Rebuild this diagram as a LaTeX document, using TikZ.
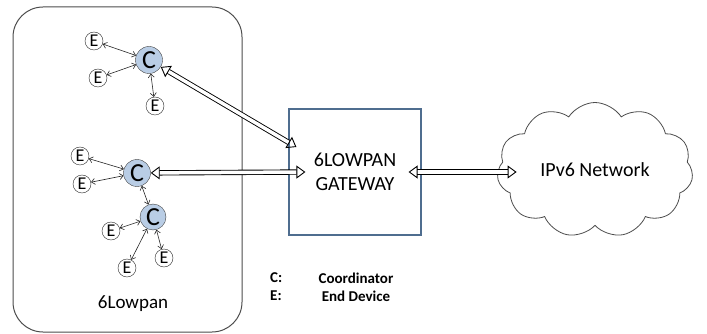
\documentclass[tikz,border=0pt]{standalone}
\usepackage{fontspec}
\setmainfont{Carlito}
\usetikzlibrary{arrows.meta,shapes.symbols}
\definecolor{coordfill}{RGB}{185,205,229}
\definecolor{gwblue}{RGB}{79,109,143}
\tikzset{
% Two node styles for the sensor nodes: coordinator and end device
coord node/.style={circle,draw=black!75,fill=coordfill,inner sep=0,minimum size=27,font=\fontsize{26}{26}\selectfont},
end node/.style={circle,draw=black!85,fill=white,inner sep=0,minimum size=18,font=\fontsize{18}{18}\selectfont},
% thin radio links and the thick backbone links
link/.style={draw=black!85,line width=0.6,{Straight Barb[length=3.5pt,width=6pt]}-{Straight Barb[length=3.5pt,width=6pt]}},
big link/.style={draw=black,double=white,double distance=3.5pt,line width=0.9,{Triangle[open,length=9pt,width=13pt]}-{Triangle[open,length=9pt,width=13pt]}},
legend/.style={font=\bfseries\fontsize{15}{15}\selectfont,inner sep=0}
}
\begin{document}
\begin{tikzpicture}[x=1pt,y=-1pt]
      \useasboundingbox (0,0) rectangle (707,334);
      % The 6LoWPAN area
      \node(lowpan)[draw=black!70,line width=1,rounded corners=30,minimum width=229,minimum height=325] at (127.5,169.5) {};
      \node(panlabel)[font=\fontsize{19}{19}\selectfont] at (133,304) {6Lowpan};
      % Coordinators
      \node(c1)[coord node] at (149,60) {C};
      \node(c2)[coord node] at (137,173) {C};
      \node(c3)[coord node,minimum size=26] at (153,217) {C};
      % End devices
      \node(e1)[end node] at (94,41) {E};
      \node(e2)[end node] at (98,78) {E};
      \node(e3)[end node] at (155,106) {E};
      \node(e4)[end node] at (80,156) {E};
      \node(e5)[end node] at (82,184) {E};
      \node(e6)[end node] at (111,231) {E};
      \node(e7)[end node] at (127,268) {E};
      \node(e8)[end node] at (164,258) {E};
      % Links inside the network
      \draw[link] (e1) -- (c1);
      \draw[link] (e2) -- (c1);
      \draw[link] (e3) -- (c1);
      \draw[link] (e4) -- (c2);
      \draw[link] (e5) -- (c2);
      \draw[link] (c2) -- (c3);
      \draw[link] (e6) -- (c3);
      \draw[link] (e7) -- (c3);
      \draw[link] (e8) -- (c3);
      % Gateway and the outside network
      \node(gw)[draw=gwblue,line width=1.2,minimum width=132,minimum height=126,align=center,font=\fontsize{20}{24}\selectfont] at (355,172) {6LOWPAN\\GATEWAY};
      \node(net)[cloud,draw=black!70,line width=0.8,cloud puffs=11,cloud puff arc=115,aspect=1.45,minimum width=196,minimum height=135,inner sep=0,font=\fontsize{20}{20}\selectfont] at (595,170) {IPv6 Network};
      \coordinate (gwtop) at ([shift={(8,-25)}]gw.west);
      \coordinate (gwleft) at ([xshift=17]gw.west);
      \draw[big link] (c1) -- (gwtop);
      \draw[big link] (c2) -- (gwleft);
      \draw[big link] ([xshift=-13]gw.east) -- ([xshift=95]gw.east);
      % Legend
      \node(lc)[legend,anchor=west] at (270,278) {C:};
      \node(le)[legend,anchor=west] at (270,296) {E:};
      \node(lcoord)[legend] at (356,278) {Coordinator};
      \node(lend)[legend] at (356,296) {End Device};
\end{tikzpicture}
\end{document}
